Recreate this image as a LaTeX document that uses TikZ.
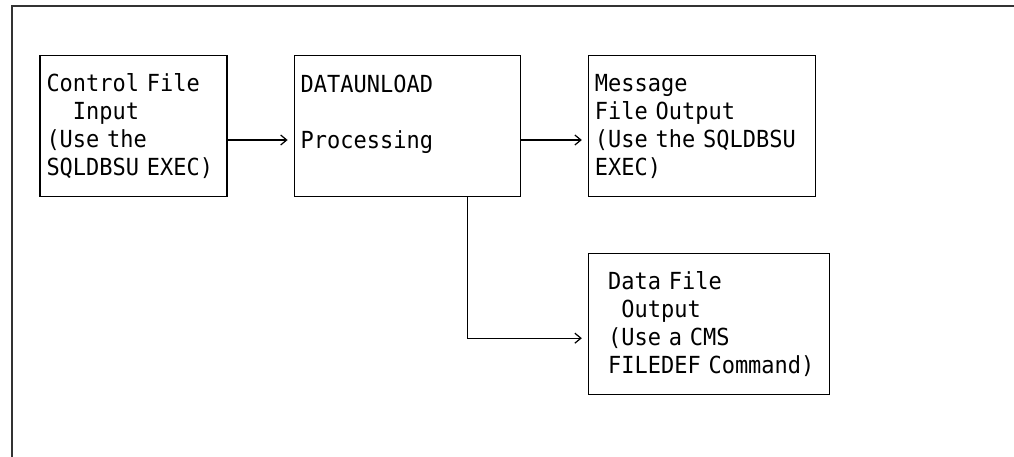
\documentclass[tikz,border=0pt]{standalone}
\usepackage{fontspec}
\newfontfamily\boxfont[FakeStretch=0.935, WordSpace={1,0,0}]{DejaVu Sans Mono}
\usetikzlibrary{shapes,arrows.meta,calc,positioning}
\tikzstyle{line} = [draw, line width=1.2pt, -{Straight Barb[length=6pt,width=10pt,line width=1.2pt]}, shorten >=6pt]
\tikzstyle{block} = [draw, rectangle, line width=1.2pt, align=left, inner xsep=6.5pt, inner ysep=0pt, minimum height=141pt, font={\boxfont\fontsize{23.5pt}{28pt}\selectfont}]

\begin{document}
\begin{tikzpicture}[x=1pt, y=-1pt, node distance=66pt]
        \useasboundingbox (0,0) rectangle (1014,457);
        \draw[line width=1.8pt, black!80] (12,457) -- (12,6) -- (1014,6);
        \node[block, text width=174pt] (ctl) at (133.5,126) {Control File\\\phantom{xx}Input\\(Use the\\SQLDBSU EXEC)};
        \node[block, text width=213pt, right=66pt of ctl] (proc) {DATAUNLOAD\\\mbox{}\\Processing\\\mbox{}};
        \node[block, text width=214pt, right=67pt of proc] (msg) {Message\\File Output\\(Use the SQLDBSU\\EXEC)};
        \node[block, text width=228pt, below=56pt of msg.south west, anchor=north west] (dat) {\phantom{x}Data File\\\phantom{xx}Output\\\phantom{x}(Use a CMS\\\phantom{x}FILEDEF Command)};
        \path[line] ([yshift=-14pt]ctl.east) -- ([yshift=-14pt]proc.west);
        \path[line] ([yshift=-14pt]proc.east) -- ([yshift=-14pt]msg.west);
        \path[line] ([xshift=60pt]proc.south) |- ([yshift=-14pt]dat.west);
\end{tikzpicture}
\end{document}
